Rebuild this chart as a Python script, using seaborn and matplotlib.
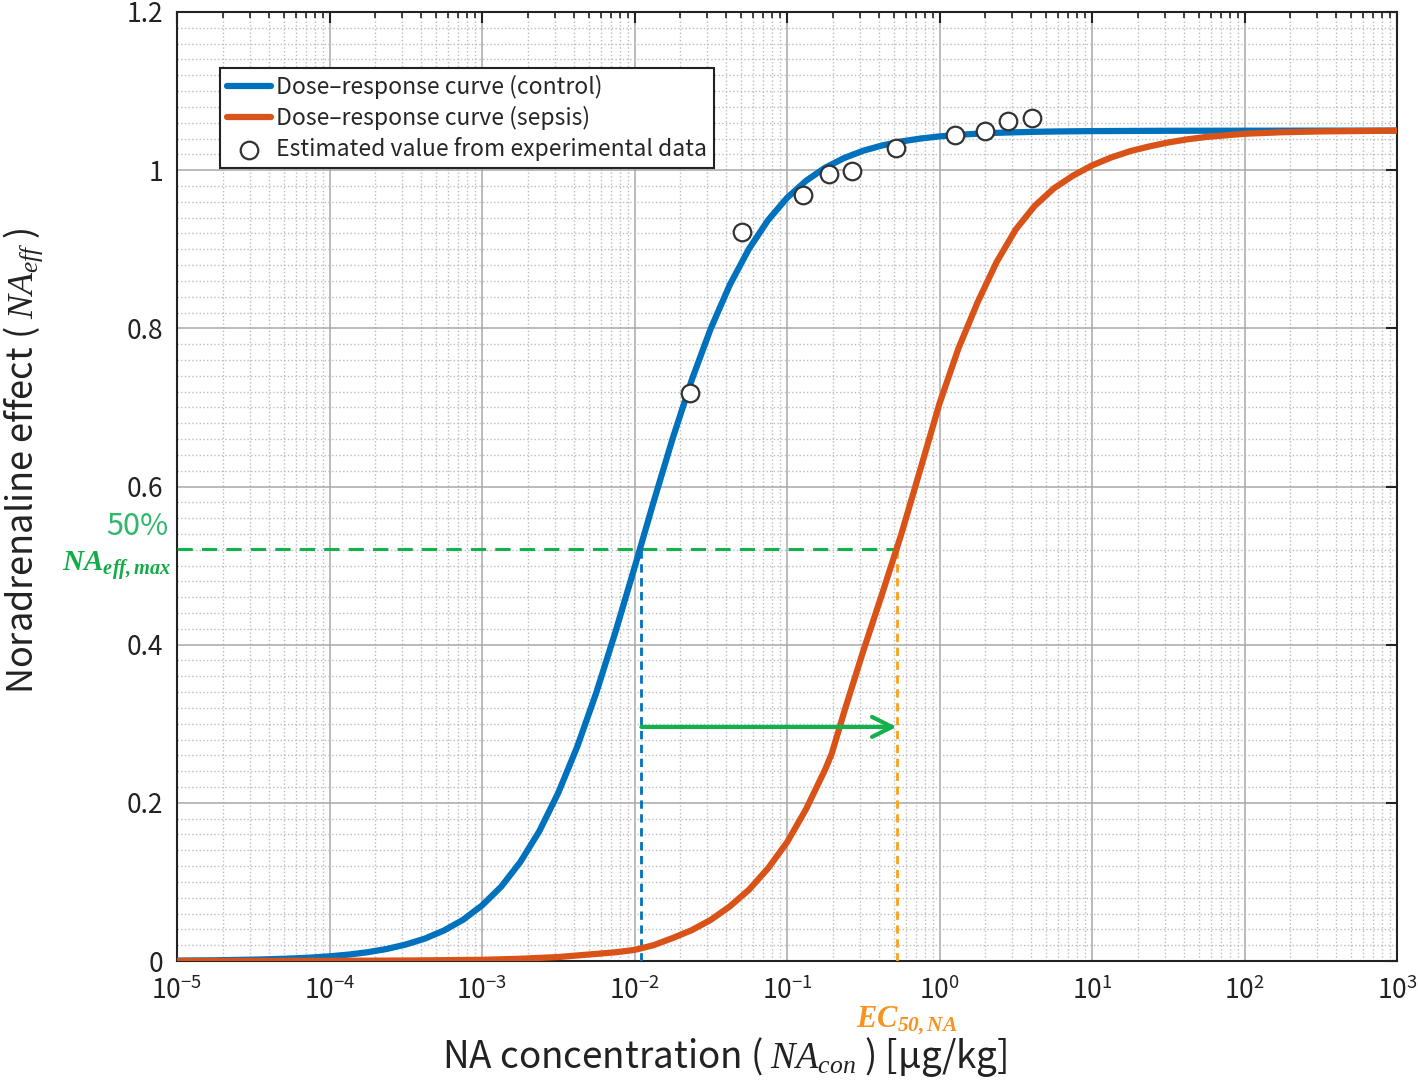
import numpy as np
import pandas as pd
import seaborn as sns
import matplotlib.pyplot as plt
from matplotlib.ticker import LogLocator, MultipleLocator, NullFormatter

# control curve, values (log10 of concentration)
ctrl_log_conc = [-5, -4.75, -4.5, -4.375, -4.25, -4.125, -4, -3.875, -3.75, -3.625, -3.5,
                 -3.375, -3.25, -3.125, -3, -2.875, -2.75, -2.625, -2.5, -2.375, -2.25,
                 -2.125, -2, -1.875, -1.75, -1.625, -1.5, -1.375, -1.25, -1.125, -1,
                 -0.875, -0.75, -0.625, -0.5, -0.375, -0.25, -0.125, 0, 0.125, 0.25,
                 0.375, 0.5, 0.625, 0.75, 1, 1.5, 2, 2.5, 3]
ctrl_effect = [0.0005, 0.0009, 0.0017, 0.0023, 0.0032, 0.0043, 0.0059, 0.0081, 0.0111, 0.0152, 0.0208,
               0.0283, 0.0385, 0.0520, 0.0702, 0.0938, 0.1248, 0.1638, 0.2126, 0.2712, 0.3396,
               0.4160, 0.4974, 0.5804, 0.6606, 0.7345, 0.7997, 0.8550, 0.9003, 0.9366, 0.9649,
               0.9866, 1.0031, 1.0154, 1.0246, 1.0313, 1.0363, 1.0400, 1.0427, 1.0447, 1.0461,
               1.0472, 1.0479, 1.0485, 1.0489, 1.0494, 1.0498, 1.0499, 1.0500, 1.0500]

# sepsis curve
seps_log_conc = [-5, -4.5, -4, -3.5, -3, -2.75, -2.5, -2.25, -2.125, -2, -1.875, -1.75,
                 -1.625, -1.5, -1.375, -1.25, -1.125, -1, -0.875, -0.75, -0.707, -0.625,
                 -0.5, -0.375, -0.25, -0.125, 0, 0.125, 0.25, 0.375, 0.5, 0.625, 0.75,
                 0.875, 1, 1.125, 1.25, 1.375, 1.5, 1.625, 1.75, 1.875, 2, 2.25, 2.5, 3]
seps_effect = [0.0000, 0.0001, 0.0002, 0.0006, 0.0015, 0.0028, 0.005, 0.009, 0.011, 0.014, 0.020, 0.029,
               0.039, 0.052, 0.069, 0.090, 0.117, 0.150, 0.192, 0.242, 0.262, 0.315,
               0.392, 0.465, 0.540, 0.622, 0.705, 0.775, 0.833, 0.884, 0.925, 0.955, 0.977,
               0.993, 1.006, 1.016, 1.024, 1.030, 1.035, 1.039, 1.042, 1.044, 1.046, 1.048, 1.049, 1.050]

# estimated values from experimental data
exp_conc = [0.0231, 0.0505, 0.127, 0.189, 0.268, 0.516, 1.265, 1.99, 2.83, 4.06]
exp_effect = [0.718, 0.922, 0.969, 0.995, 0.999, 1.028, 1.045, 1.050, 1.062, 1.066]

half_effect = 0.521
ec50_ctrl = 0.0111
ec50_seps = 0.524
arrow_y = 0.296

xticks = [1e-5, 1e-4, 1e-3, 1e-2, 1e-1, 1e0, 1e1, 1e2, 1e3]
xtick_labels = [r'$\mathdefault{10^{-5}}$', r'$\mathdefault{10^{-4}}$', r'$\mathdefault{10^{-3}}$',
                r'$\mathdefault{10^{-2}}$', r'$\mathdefault{10^{-1}}$', r'$\mathdefault{10^{0}}$',
                r'$\mathdefault{10^{1}}$', r'$\mathdefault{10^{2}}$', r'$\mathdefault{10^{3}}$']
yticks = [0, 0.2, 0.4, 0.6, 0.8, 1.0, 1.2]
ytick_labels = ['0', '0.2', '0.4', '0.6', '0.8', '1', '1.2']

BLUE = '#0072BD'
ORANGE = '#D95319'
GREEN = '#13B04B'
LIGHT_ORANGE = '#F7A21B'

sns.set_style('white')
plt.rcParams['font.family'] = ['Noto Sans CJK JP', 'DejaVu Sans']
plt.rcParams['mathtext.fontset'] = 'custom'
plt.rcParams['mathtext.rm'] = 'Liberation Serif'
plt.rcParams['mathtext.it'] = 'Liberation Serif:italic'
plt.rcParams['mathtext.bf'] = 'Liberation Serif:italic:bold'

ctrl = pd.DataFrame({'conc': 10.0 ** np.array(ctrl_log_conc), 'effect': ctrl_effect})
seps = pd.DataFrame({'conc': 10.0 ** np.array(seps_log_conc), 'effect': seps_effect})
exp = pd.DataFrame({'conc': exp_conc, 'effect': exp_effect})

fig = plt.figure(figsize=(14.18, 10.83), dpi=100)
ax = fig.add_axes([177 / 1418, 1 - 961 / 1083, 1220 / 1418, 949 / 1083])

# dashed guide lines
ax.plot([1e-5, ec50_seps], [half_effect, half_effect], color=GREEN, lw=2.2, ls=(0, (5, 3)), zorder=3)
ax.plot([ec50_ctrl, ec50_ctrl], [0, half_effect], color=BLUE, lw=2.0, ls=(0, (3, 2)), zorder=3)
ax.plot([ec50_seps, ec50_seps], [0, half_effect], color=LIGHT_ORANGE, lw=2.0, ls=(0, (3, 2)), zorder=3)

sns.lineplot(data=ctrl, x='conc', y='effect', ax=ax, color=BLUE, lw=4.5, sort=False,
             label='Dose\u2013response curve (control)', zorder=4)
sns.lineplot(data=seps, x='conc', y='effect', ax=ax, color=ORANGE, lw=4.5, sort=False,
             label='Dose\u2013response curve (sepsis)', zorder=4)
sns.scatterplot(data=exp, x='conc', y='effect', ax=ax, s=160, facecolor='white',
                edgecolor='#333333', linewidth=1.6, zorder=5,
                label='Estimated value from experimental data')

ax.annotate('', xy=(ec50_seps, arrow_y), xytext=(ec50_ctrl, arrow_y),
            arrowprops=dict(arrowstyle='->', color=GREEN, lw=3, mutation_scale=36,
                            shrinkA=0, shrinkB=0), zorder=6)

ax.set_xscale('log')
ax.set_xlim(1e-5, 1e3)
ax.set_ylim(0, 1.2)
ax.set_xticks(xticks)
ax.set_xticklabels(xtick_labels)
ax.xaxis.set_minor_locator(LogLocator(base=10, subs=np.arange(2, 10), numticks=50))
ax.xaxis.set_minor_formatter(NullFormatter())
ax.set_yticks(yticks)
ax.set_yticklabels(ytick_labels)
ax.yaxis.set_minor_locator(MultipleLocator(0.02))

ax.grid(which='major', color='#a8a8a8', lw=1.1, ls='-')
ax.grid(which='minor', color='#bdbdbd', lw=1.0, ls=':')
ax.set_axisbelow(True)

ax.tick_params(which='both', direction='in', top=True, right=True, labelsize=19, colors='#222222')
ax.tick_params(which='major', length=8, width=1.5)
ax.tick_params(axis='x', which='major', pad=11)
ax.tick_params(axis='y', which='major', pad=10)
ax.tick_params(axis='x', which='minor', length=4, width=1.2)
ax.tick_params(axis='y', which='minor', length=0)
for sp in ax.spines.values():
    sp.set_color('#222222')
    sp.set_linewidth(1.5)

ax.set_xlabel(r'NA concentration ( $NA_{con}$ ) [µg/kg]', fontsize=26.5, color='#222222')
ax.set_ylabel(r'Noradrenaline effect ( $NA_{eff}$ )', fontsize=26, color='#222222')
ax.xaxis.set_label_coords(0.449, -0.078)
ax.yaxis.set_label_coords(-0.108, 0.527)

trans_y = ax.get_yaxis_transform()
ax.text(-0.007, 0.549, '50%', transform=trans_y, ha='right', va='center',
        fontsize=22, color='#2DB86A')
ax.text(-0.005, 0.4995, r'$\mathbf{NA}_{\mathbf{eff,max}}$', transform=trans_y,
        ha='right', va='center', fontsize=21, color='#14AA48')
trans_x = ax.get_xaxis_transform()
ax.text(0.61, -0.063, r'$\mathbf{EC}_{\mathbf{50,NA}}$', transform=trans_x,
        ha='center', va='center', fontsize=22, color='#F7931E')

leg = ax.legend(loc='upper left', bbox_to_anchor=(0.035, 0.941), borderaxespad=0,
                fontsize=16.5, frameon=True, fancybox=False, framealpha=1,
                handlelength=1.95, handletextpad=0.2, labelspacing=0.3, borderpad=0.3)
leg.get_frame().set_edgecolor('#222222')
leg.get_frame().set_linewidth(1.5)

fig.savefig('out.png', dpi=100)
